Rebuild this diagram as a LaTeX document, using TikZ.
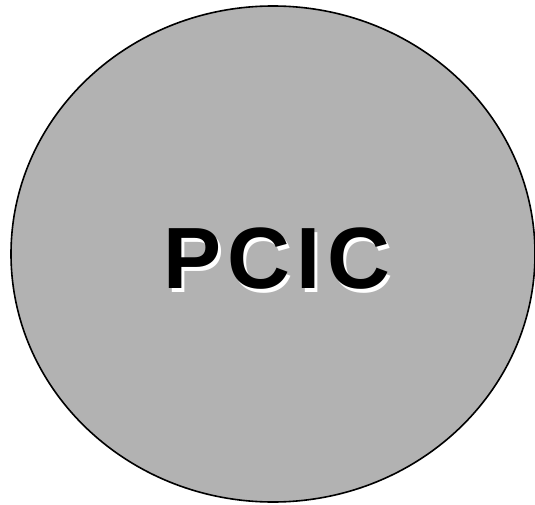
\documentclass[tikz,border=0pt]{standalone}
\usepackage{fontspec}
\setmainfont{Liberation Sans}
\newfontfamily\pcicfont[LetterSpace=7]{Liberation Sans}
\usetikzlibrary{shapes.geometric}
\definecolor{blobgray}{HTML}{B2B2B2}
% black text with a white copy offset down and right
\newcommand{\shadowtext}[1]{\makebox[0pt][l]{\hspace{3pt}\raisebox{-4pt}{\textcolor{white}{#1}}}#1}
\begin{document}
\begin{tikzpicture}[
        x=1pt, y=-1pt,
        blob/.style={ellipse, draw=black, line width=1.6pt, fill=blobgray, minimum width=524pt, minimum height=496pt, inner sep=0pt},
        label/.style={font=\pcicfont\bfseries\fontsize{87}{87}\selectfont, inner sep=0pt, text=black},
        ]
        \useasboundingbox (0,0) rectangle (535,505);
        % Grey ellipse
        \node[blob] (pcic) at (273,254) {};
        % Title with white shadow
        \node[label] (title) at (277,261) {\shadowtext{PCIC}};
\end{tikzpicture}
\end{document}
